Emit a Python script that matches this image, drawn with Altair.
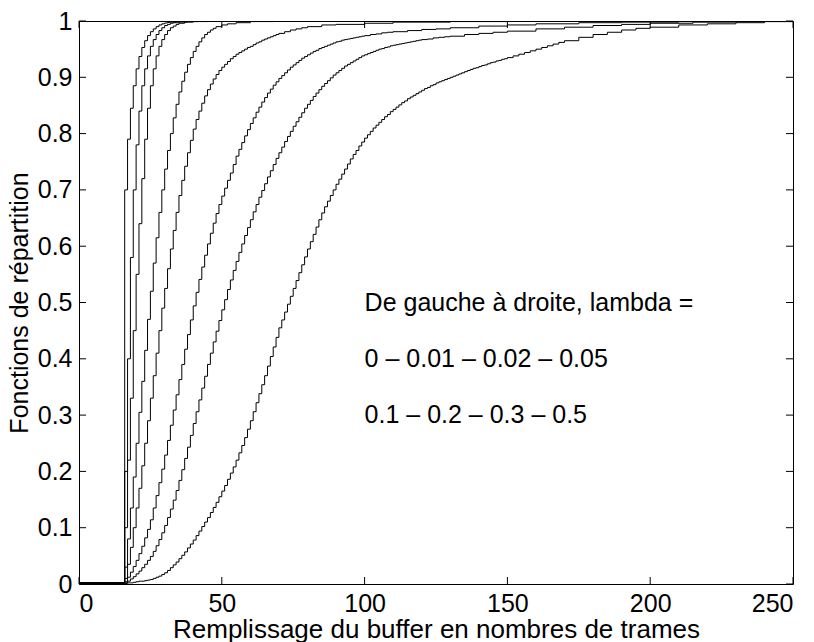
import altair as alt
import pandas as pd

# ---------------- data ----------------
LAMBDAS = ["0", "0.01", "0.02", "0.05", "0.1", "0.2", "0.3", "0.5"]
X_TICKS = [0, 50, 100, 150, 200, 250]
Y_TICKS = [0, 0.1, 0.2, 0.3, 0.4, 0.5, 0.6, 0.7, 0.8, 0.9, 1]
STEP_START = 16  # first buffer level where the CDFs start to rise
BASE = [0.002, 0.002, 0.002, 0.002, 0.002, 0.002, 0.002, 0.001]

# y value of each step, one per integer from STEP_START on
c1_steps = [0.70, 0.79, 0.845, 0.885, 0.915, 0.937, 0.953, 0.965, 0.974, 0.981,
            0.986, 0.990, 0.993, 0.995, 0.9965, 0.9975]
c1_tail_x = [32, 34, 37, 40, 250]
c1_tail_y = [0.998, 0.999, 0.9995, 1.0, 1.0]

c2_steps = [0.20, 0.40, 0.58, 0.70, 0.78, 0.84, 0.885, 0.915, 0.938, 0.955,
            0.967, 0.976, 0.983, 0.988, 0.992, 0.994, 0.996, 0.997]
c2_tail_x = [35, 38, 42, 250]
c2_tail_y = [0.998, 0.999, 1.0, 1.0]

c3_steps = [0.10, 0.22, 0.33, 0.45, 0.55, 0.64, 0.72, 0.79, 0.845, 0.885,
            0.915, 0.938, 0.955, 0.967, 0.976, 0.983, 0.988, 0.991, 0.994, 0.996]
c3_tail_x = [37, 40, 45, 250]
c3_tail_y = [0.998, 0.999, 1.0, 1.0]

c4_steps = [0.03, 0.08, 0.135, 0.19, 0.25, 0.305, 0.36, 0.415, 0.47, 0.52,
            0.57, 0.615, 0.66, 0.70, 0.737, 0.77, 0.80, 0.828, 0.852, 0.874,
            0.893, 0.909, 0.923, 0.935, 0.946, 0.955, 0.963, 0.97, 0.976, 0.98,
            0.984, 0.987, 0.99]
c4_tail_x = [50, 52, 55, 60, 68, 250]
c4_tail_y = [0.993, 0.995, 0.997, 0.999, 1.0, 1.0]

c5_steps = [0.01, 0.035, 0.065, 0.10, 0.135, 0.17, 0.21, 0.25, 0.29, 0.33,
            0.37, 0.41, 0.45, 0.49, 0.525, 0.56, 0.595, 0.628, 0.66, 0.69,
            0.717, 0.742, 0.766, 0.788, 0.808, 0.825, 0.840, 0.854, 0.867, 0.878,
            0.888, 0.897, 0.905, 0.912, 0.918, 0.923, 0.928, 0.933, 0.937, 0.941,
            0.944, 0.947, 0.950, 0.953, 0.955, 0.958, 0.961, 0.963, 0.966, 0.968,
            0.970, 0.972, 0.974, 0.976, 0.978]
c5_tail_x = [72, 74, 76, 78, 80, 85, 90, 100, 110, 130, 150, 250]
c5_tail_y = [0.981, 0.984, 0.986, 0.988, 0.990, 0.993, 0.994, 0.996, 0.998, 0.999, 1.0, 1.0]

c6_steps = [0.004, 0.012, 0.021, 0.031, 0.042, 0.054, 0.067, 0.082, 0.097, 0.114,
            0.135, 0.157, 0.18, 0.204, 0.229, 0.255, 0.282, 0.309, 0.336, 0.363,
            0.39, 0.417, 0.443, 0.469, 0.494, 0.518, 0.541, 0.563, 0.584, 0.604,
            0.623, 0.641, 0.658, 0.674, 0.689, 0.703, 0.717, 0.73, 0.745, 0.760,
            0.772, 0.784, 0.796, 0.807, 0.818, 0.828, 0.838, 0.847, 0.856, 0.864,
            0.872, 0.879, 0.886, 0.892, 0.898, 0.903, 0.908, 0.913, 0.918, 0.922,
            0.926, 0.93, 0.934, 0.937, 0.94, 0.943, 0.946, 0.948, 0.951, 0.953,
            0.955, 0.957, 0.959, 0.961, 0.963, 0.964, 0.966, 0.967, 0.968, 0.969,
            0.97, 0.971, 0.972, 0.973, 0.974]
c6_tail_x = [102, 104, 106, 108, 110, 115, 120, 125, 130, 140, 150, 160, 175, 190, 210, 240, 250]
c6_tail_y = [0.976, 0.977, 0.979, 0.98, 0.981, 0.983, 0.985, 0.986, 0.988, 0.991,
             0.993, 0.995, 0.997, 0.998, 0.999, 1.0, 1.0]

c7_steps = [0.002, 0.005, 0.009, 0.013, 0.018, 0.023, 0.029, 0.035, 0.042, 0.049,
            0.058, 0.068, 0.079, 0.091, 0.104, 0.118, 0.133, 0.149, 0.166, 0.184,
            0.203, 0.223, 0.243, 0.264, 0.285, 0.306, 0.327, 0.348, 0.369, 0.39,
            0.41, 0.43, 0.449, 0.468, 0.487, 0.505, 0.523, 0.54, 0.557, 0.573,
            0.589, 0.604, 0.619, 0.633, 0.647, 0.661, 0.674, 0.687, 0.699, 0.711,
            0.723, 0.734, 0.745, 0.756, 0.766, 0.776, 0.786, 0.795, 0.804, 0.813,
            0.821, 0.829, 0.837, 0.845, 0.852, 0.859, 0.866, 0.872, 0.878, 0.884,
            0.889, 0.894, 0.899, 0.904, 0.908, 0.912, 0.916, 0.92, 0.923, 0.926,
            0.929, 0.932, 0.935, 0.938, 0.94, 0.942, 0.944, 0.946, 0.948, 0.95,
            0.951, 0.953, 0.954, 0.956, 0.957, 0.958, 0.959, 0.960, 0.961, 0.962,
            0.963, 0.964, 0.965, 0.966, 0.967]
c7_tail_x = [122, 124, 126, 128, 130, 135, 140, 145, 150, 160, 170, 180, 190, 200, 215, 230, 250]
c7_tail_y = [0.968, 0.97, 0.971, 0.972, 0.973, 0.976, 0.978, 0.98, 0.982, 0.986,
             0.989, 0.992, 0.994, 0.996, 0.998, 0.999, 1.0]

c8_steps = [0.001, 0.002, 0.002, 0.003, 0.004, 0.005, 0.005, 0.006, 0.007, 0.008,
            0.010, 0.012, 0.014, 0.017, 0.020, 0.024, 0.029, 0.034, 0.039, 0.045,
            0.051, 0.057, 0.064, 0.071, 0.078, 0.086, 0.094, 0.102, 0.110, 0.118,
            0.127, 0.136, 0.145, 0.155, 0.165, 0.175, 0.186, 0.197, 0.208, 0.220,
            0.233, 0.246, 0.260, 0.275, 0.290, 0.306, 0.322, 0.338, 0.354, 0.370,
            0.387, 0.404, 0.421, 0.438, 0.455, 0.469, 0.483, 0.497, 0.511, 0.525,
            0.539, 0.553, 0.567, 0.581, 0.595, 0.608, 0.621, 0.634, 0.647, 0.659,
            0.670, 0.680, 0.690, 0.700, 0.710, 0.719, 0.728, 0.737, 0.746, 0.755,
            0.763, 0.770, 0.778, 0.785, 0.792, 0.798, 0.804, 0.810, 0.815, 0.820,
            0.825, 0.830, 0.834, 0.839, 0.843, 0.847, 0.851, 0.855, 0.858, 0.862,
            0.865, 0.868, 0.871, 0.874, 0.877, 0.880, 0.882, 0.885, 0.887, 0.890,
            0.892, 0.894, 0.896, 0.898, 0.900, 0.902, 0.904, 0.906, 0.908, 0.910,
            0.912, 0.914, 0.916, 0.917, 0.919, 0.921, 0.922, 0.924, 0.926, 0.927,
            0.929, 0.930, 0.932, 0.933, 0.935]
c8_tail_x = [152, 154, 156, 158, 160, 162, 164, 166, 168, 170, 175, 180, 185, 190,
             195, 200, 210, 220, 230, 240, 250]
c8_tail_y = [0.938, 0.941, 0.944, 0.947, 0.950, 0.953, 0.956, 0.959, 0.962, 0.965,
             0.971, 0.976, 0.980, 0.984, 0.987, 0.989, 0.993, 0.995, 0.997, 0.999, 1.0]

NOTE_X = 100
NOTE_Y = [0.5, 0.4, 0.3]
NOTE_TEXT = ["De gauche à droite, lambda =",
             "0 \u2013 0.01 \u2013 0.02 \u2013 0.05",
             "0.1 \u2013 0.2 \u2013 0.3 \u2013 0.5"]

# ---------------- build tables ----------------
curves = [
    (c1_steps, c1_tail_x, c1_tail_y), (c2_steps, c2_tail_x, c2_tail_y),
    (c3_steps, c3_tail_x, c3_tail_y), (c4_steps, c4_tail_x, c4_tail_y),
    (c5_steps, c5_tail_x, c5_tail_y), (c6_steps, c6_tail_x, c6_tail_y),
    (c7_steps, c7_tail_x, c7_tail_y), (c8_steps, c8_tail_x, c8_tail_y),
]
rows = []
for lam, base, (steps, tx, ty) in zip(LAMBDAS, BASE, curves):
    rows.append((lam, 0, base))
    for i, v in enumerate(steps):
        rows.append((lam, STEP_START + i, v))
    for x, y in zip(tx, ty):
        rows.append((lam, x, y))
df = pd.DataFrame(rows, columns=["lam", "x", "y"])

xt = pd.DataFrame({"x": X_TICKS})
yt = pd.DataFrame({"y": Y_TICKS})
notes = pd.DataFrame({"x": [NOTE_X] * len(NOTE_Y), "y": NOTE_Y, "t": NOTE_TEXT})

W, H = 714, 563
FONT = "Liberation Sans"
FS = 25
TICK = 7
xs = alt.Scale(domain=[0, 250], nice=False, zero=False)
ys = alt.Scale(domain=[0, 1], nice=False, zero=False)

AX_X = alt.Axis(values=X_TICKS, ticks=False, domain=False, grid=False,
                labelPadding=7, title="Remplissage du buffer en nombres de trames",
                titlePadding=0, titleFontSize=26)
AX_Y = alt.Axis(values=Y_TICKS, format="~g", ticks=False, domain=False, grid=False,
                labelPadding=7, title="Fonctions de répartition", titlePadding=5)
X = alt.X("x:Q", scale=xs, axis=AX_X)
Y = alt.Y("y:Q", scale=ys, axis=AX_Y)

lines = alt.Chart(df).mark_line(
    interpolate="step-after", color="black", strokeWidth=1, clip=True
).encode(x=X, y=Y, detail="lam:N", order="x:Q")

tb = alt.Chart(xt).mark_rule(color="black", strokeWidth=1).encode(
    x=X, y=alt.value(H), y2=alt.value(H - TICK))
tt = alt.Chart(xt).mark_rule(color="black", strokeWidth=1).encode(
    x=X, y=alt.value(0), y2=alt.value(TICK))
tl = alt.Chart(yt).mark_rule(color="black", strokeWidth=1).encode(
    y=Y, x=alt.value(0), x2=alt.value(TICK))
tr = alt.Chart(yt).mark_rule(color="black", strokeWidth=1).encode(
    y=Y, x=alt.value(W), x2=alt.value(W - TICK))

text = alt.Chart(notes).mark_text(
    align="left", baseline="middle", font=FONT, fontSize=FS, color="black"
).encode(x=X, y=Y, text="t:N")

chart = alt.layer(lines, tb, tt, tl, tr, text).properties(
    width=W, height=H,
    autosize=alt.AutoSizeParams(type="none"),
    padding={"left": 79, "top": 21, "right": 21, "bottom": 58},
    background="white",
).configure_view(
    stroke="black", strokeWidth=1
).configure_axis(
    labelFont=FONT, titleFont=FONT, labelFontSize=FS, titleFontSize=FS,
    labelColor="black", titleColor="black", titleFontWeight="normal",
)

chart.save("out.html", embed_options={"renderer": "svg", "actions": False})
